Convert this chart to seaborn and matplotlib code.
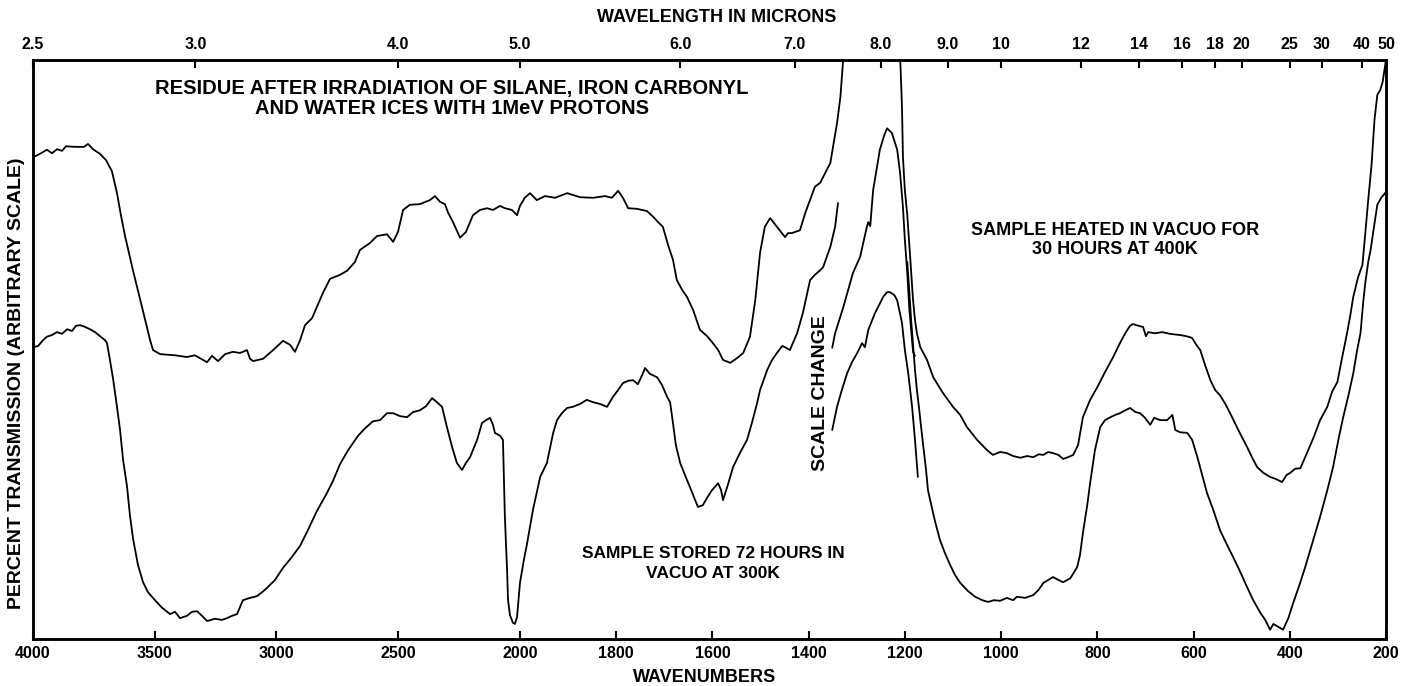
import numpy as np
import pandas as pd
import matplotlib
matplotlib.use("Agg")
import matplotlib.pyplot as plt
import seaborn as sns

# ---------------------------------------------------------------------------- #
#  Spectrum data: (wavenumber [cm-1], transmission [arbitrary, 0-100]) pairs    #
# ---------------------------------------------------------------------------- #

# Upper trace, 4000 cm-1 up to the scale change (runs off the top)
upper_left = [
    (4000, 83.2), (3971, 83.8), (3943, 84.5), (3922, 83.9), (3901, 84.6), (3881, 84.3),
    (3864, 85.1), (3828, 85.0), (3791, 85.0), (3774, 85.5), (3754, 84.6), (3725, 83.8),
    (3700, 82.7), (3676, 80.8), (3655, 77.0), (3639, 73.2), (3622, 69.6), (3589, 63.6),
    (3548, 56.6), (3519, 51.6), (3507, 49.9), (3478, 49.2), (3417, 49.0), (3368, 48.7),
    (3335, 49.0), (3285, 47.8), (3265, 48.9), (3240, 48.0), (3211, 49.2), (3179, 49.6),
    (3150, 49.4), (3121, 49.9), (3109, 48.4), (3096, 48.0), (3055, 48.4), (3014, 49.9),
    (2973, 51.5), (2944, 50.8), (2924, 49.6), (2903, 51.6), (2883, 54.2), (2854, 55.4),
    (2809, 59.8), (2780, 62.2), (2739, 62.9), (2710, 63.6), (2678, 65.1), (2657, 67.2),
    (2616, 68.4), (2587, 69.6), (2546, 69.9), (2521, 68.6), (2501, 70.3), (2480, 74.1),
    (2452, 75.0), (2411, 75.1), (2370, 75.8), (2349, 76.5), (2328, 75.5), (2308, 75.1),
    (2296, 73.7), (2275, 72.0), (2246, 69.3), (2222, 70.3), (2193, 73.2), (2164, 74.1),
    (2135, 74.4), (2111, 74.1), (2082, 74.8), (2062, 74.4), (2033, 74.1), (2012, 73.2),
    (2000, 74.8), (1990, 76.2), (1979, 77.0), (1965, 75.8), (1948, 76.5), (1927, 76.2),
    (1902, 77.0), (1875, 76.3), (1848, 76.2), (1823, 76.5), (1809, 76.2), (1796, 77.4),
    (1786, 76.2), (1775, 74.4), (1757, 74.3), (1736, 73.9), (1723, 72.9), (1713, 72.0),
    (1703, 71.2), (1692, 68.0), (1682, 65.5), (1674, 62.0), (1663, 60.3), (1653, 59.1),
    (1640, 56.8), (1626, 53.4), (1611, 52.3), (1599, 51.1), (1588, 49.9), (1578, 48.2),
    (1563, 47.7), (1549, 48.5), (1536, 49.4), (1522, 52.2), (1511, 58.5), (1501, 66.7),
    (1491, 71.2), (1480, 72.7), (1466, 71.2), (1449, 69.4), (1443, 70.1), (1435, 70.1),
    (1418, 70.6), (1407, 73.6), (1387, 78.1), (1376, 78.8), (1355, 82.2), (1341, 89.1),
    (1334, 93.6), (1327, 101.5),
]

# Upper trace after scale change: band near 1240 cm-1
upper_band = [
    (1351, 50.3), (1345, 52.8), (1328, 57.3), (1308, 63.2), (1293, 66.0), (1279, 71.2),
    (1276, 72.0), (1272, 71.3), (1266, 77.5), (1252, 84.5), (1243, 87.0), (1237, 88.2),
    (1227, 87.4), (1216, 84.5), (1210, 80.5), (1204, 74.6), (1200, 68.9), (1195, 63.2),
    (1191, 57.3), (1187, 53.4), (1183, 49.6), (1179, 48.9),
]

# Upper trace, 1210 cm-1 down to 200 cm-1
upper_right = [
    (1210, 100.9), (1206, 91.9), (1204, 83.2), (1200, 77.5), (1195, 73.2), (1189, 66.0),
    (1183, 58.5), (1179, 55.1), (1175, 52.8), (1168, 50.4), (1154, 48.2), (1141, 45.2),
    (1121, 42.5), (1100, 40.1), (1085, 38.7), (1071, 36.6), (1050, 34.4), (1029, 32.6),
    (1017, 31.8), (1002, 32.3), (988, 32.1), (975, 31.6), (960, 31.3), (946, 31.6),
    (933, 31.4), (922, 31.9), (912, 31.8), (902, 32.3), (892, 32.1), (881, 31.8),
    (871, 31.1), (861, 31.4), (850, 31.8), (840, 33.5), (830, 38.3), (815, 41.3),
    (800, 43.5), (784, 46.1), (767, 48.7), (753, 51.1), (742, 52.8), (732, 54.1),
    (726, 54.4), (715, 54.1), (705, 53.9), (699, 52.3), (694, 53.0), (680, 52.8),
    (665, 53.0), (649, 52.7), (628, 52.5), (615, 52.3), (603, 52.0), (595, 50.9),
    (586, 49.9), (576, 47.3), (565, 44.7), (555, 43.0), (545, 42.1), (534, 40.6),
    (524, 39.0), (507, 36.1), (489, 33.2), (478, 31.3), (468, 29.7), (455, 28.7),
    (441, 28.0), (428, 27.6), (416, 27.1), (407, 28.3), (399, 28.7), (389, 29.4),
    (378, 29.5), (366, 31.8), (351, 34.7), (337, 37.8), (322, 40.1), (312, 42.7),
    (301, 44.4), (291, 48.7), (281, 52.8), (274, 56.0), (268, 59.1), (258, 62.5),
    (249, 64.6), (243, 70.1), (237, 75.8), (230, 81.9), (224, 89.6), (218, 94.0),
    (212, 94.8), (207, 96.2), (200, 100.0),
]

# Lower trace, 4000 cm-1 up to the scale change
lower_left = [
    (4000, 50.4), (3979, 50.6), (3959, 51.6), (3943, 52.2), (3922, 52.5), (3901, 53.0),
    (3881, 52.7), (3860, 53.5), (3840, 53.2), (3823, 54.1), (3807, 54.2), (3786, 53.9),
    (3766, 53.5), (3745, 53.0), (3725, 52.3), (3704, 51.6), (3696, 51.1), (3684, 48.2),
    (3671, 44.9), (3659, 41.3), (3643, 36.3), (3630, 30.9), (3614, 26.4), (3602, 21.4),
    (3589, 17.3), (3569, 12.8), (3548, 9.8), (3528, 8.1), (3499, 6.7), (3470, 5.4),
    (3437, 4.3), (3417, 4.7), (3396, 3.6), (3368, 4.0), (3347, 4.7), (3326, 4.8),
    (3306, 4.0), (3285, 3.1), (3253, 3.5), (3224, 3.3), (3203, 3.6), (3183, 4.0),
    (3162, 4.3), (3150, 5.5), (3138, 6.7), (3109, 7.1), (3080, 7.4), (3047, 8.5),
    (3006, 10.2), (2973, 12.3), (2936, 14.2), (2903, 16.1), (2871, 18.8), (2834, 22.1),
    (2793, 25.2), (2768, 27.3), (2739, 30.2), (2706, 32.6), (2665, 35.1), (2636, 36.4),
    (2604, 37.6), (2575, 37.8), (2546, 39.0), (2521, 39.0), (2493, 38.5), (2464, 38.3),
    (2439, 39.2), (2411, 39.5), (2386, 40.2), (2361, 41.6), (2341, 40.9), (2320, 40.1),
    (2300, 36.6), (2279, 33.2), (2259, 30.4), (2238, 29.2), (2222, 30.4), (2205, 31.4),
    (2176, 34.4), (2156, 37.3), (2139, 37.8), (2123, 38.2), (2111, 37.0), (2103, 35.6),
    (2082, 35.1), (2070, 34.4), (2066, 27.5), (2062, 21.1), (2053, 11.9), (2049, 6.7),
    (2041, 4.1), (2029, 2.8), (2021, 2.6), (2012, 3.8), (2000, 9.7), (1992, 13.6),
    (1985, 16.6), (1973, 22.3), (1958, 28.0), (1944, 30.4), (1931, 35.6), (1923, 37.8),
    (1913, 39.0), (1902, 39.9), (1890, 40.1), (1875, 40.6), (1861, 41.3), (1848, 40.9),
    (1834, 40.6), (1819, 40.1), (1807, 41.8), (1796, 43.0), (1786, 44.2), (1775, 44.6),
    (1765, 44.7), (1755, 44.0), (1746, 45.6), (1740, 46.8), (1730, 45.8), (1715, 45.2),
    (1705, 43.9), (1694, 41.8), (1688, 40.9), (1682, 37.3), (1676, 33.5), (1667, 30.4),
    (1657, 28.3), (1647, 26.3), (1636, 24.0), (1630, 22.8), (1620, 23.1), (1611, 24.4),
    (1601, 25.7), (1588, 26.9), (1582, 25.7), (1578, 24.0), (1568, 26.6), (1557, 29.7),
    (1543, 32.1), (1528, 34.4), (1518, 37.3), (1507, 40.8), (1501, 43.0), (1486, 46.5),
    (1476, 48.2), (1466, 49.4), (1455, 50.6), (1449, 50.4), (1439, 49.9), (1424, 52.8),
    (1412, 56.3), (1397, 62.0), (1387, 62.9), (1376, 63.7), (1370, 64.2), (1355, 67.7),
    (1345, 71.2), (1339, 75.3),
]

# Lower trace after scale change: band near 1235 cm-1
lower_band = [
    (1351, 36.1), (1341, 40.1), (1331, 43.0), (1320, 45.9), (1310, 47.8), (1299, 49.4),
    (1289, 51.1), (1283, 50.4), (1276, 53.4), (1262, 56.3), (1245, 59.1), (1237, 59.9),
    (1231, 59.9), (1222, 59.4), (1216, 58.5), (1206, 54.6), (1200, 49.9), (1193, 45.9),
    (1185, 40.1), (1179, 34.4), (1173, 28.0),
]

# Lower trace, 1195 cm-1 down to 200 cm-1
lower_right = [
    (1195, 65.1), (1191, 60.3), (1187, 55.1), (1183, 50.8), (1179, 46.5), (1175, 43.0),
    (1170, 39.5), (1166, 36.4), (1162, 33.5), (1156, 29.2), (1152, 25.7), (1145, 23.1),
    (1137, 20.2), (1127, 17.1), (1117, 14.9), (1106, 12.8), (1096, 11.1), (1085, 9.7),
    (1069, 8.3), (1054, 7.3), (1039, 6.7), (1027, 6.4), (1015, 6.7), (1002, 6.6),
    (988, 7.1), (975, 6.7), (967, 7.3), (950, 7.1), (933, 7.6), (922, 8.5),
    (912, 9.7), (902, 10.2), (892, 10.7), (881, 10.2), (871, 9.8), (856, 10.5),
    (842, 12.4), (836, 14.5), (830, 18.3), (821, 23.1), (815, 26.9), (805, 32.6),
    (794, 36.6), (784, 37.8), (773, 38.3), (763, 38.7), (753, 39.0), (742, 39.5),
    (732, 39.9), (721, 39.2), (711, 39.0), (701, 38.2), (690, 37.0), (682, 38.2),
    (669, 37.8), (655, 37.8), (644, 38.7), (638, 36.1), (628, 35.7), (613, 35.6),
    (603, 34.4), (592, 31.4), (582, 28.3), (572, 25.2), (559, 22.3), (545, 18.8),
    (530, 16.2), (518, 14.2), (503, 11.6), (489, 9.0), (476, 6.7), (461, 4.5),
    (451, 3.3), (441, 1.6), (434, 2.6), (426, 2.2), (414, 1.6), (403, 3.6),
    (393, 6.2), (380, 9.3), (368, 12.4), (353, 16.6), (337, 21.1), (322, 25.7),
    (310, 29.7), (299, 34.4), (289, 38.3), (278, 42.1), (268, 45.9), (260, 49.9),
    (253, 52.8), (247, 58.5), (243, 61.5), (237, 65.1), (232, 67.2), (226, 70.6),
    (218, 75.0), (210, 76.2), (200, 77.2),
]

wavenumber_ticks = [4000, 3500, 3000, 2500, 2000, 1800, 1600, 1400, 1200, 1000, 800, 600, 400, 200]
micron_ticks = [2.5, 3.0, 4.0, 5.0, 6.0, 7.0, 8.0, 9.0, 10, 12, 14, 16, 18, 20, 25, 30, 40, 50]
micron_labels = ["2.5", "3.0", "4.0", "5.0", "6.0", "7.0", "8.0", "9.0", "10", "12",
                 "14", "16", "18", "20", "25", "30", "40", "50"]

# Spectrometer chart: 4000-2000 cm-1 compressed, 2000-200 cm-1 expanded
RATIO = 1.976


def fwd(w):
    w = np.asarray(w, dtype=float)
    return np.where(w >= 2000, w, 2000 - RATIO * (2000 - w))


def inv(u):
    u = np.asarray(u, dtype=float)
    return np.where(u >= 2000, u, 2000 - (2000 - u) / RATIO)


segments = {
    "upper_left": upper_left,
    "upper_band": upper_band,
    "upper_right": upper_right,
    "lower_left": lower_left,
    "lower_band": lower_band,
    "lower_right": lower_right,
}
df = pd.concat(
    [pd.DataFrame(pts, columns=["wn", "T"]).assign(segment=name) for name, pts in segments.items()],
    ignore_index=True,
)

sns.set_theme(style="ticks")
plt.rcParams["font.family"] = ["Liberation Sans", "DejaVu Sans"]
plt.rcParams["text.color"] = "black"

fig = plt.figure(figsize=(14.03, 6.86), dpi=100)
ax = fig.add_axes([33 / 1403, 47 / 686, 1353 / 1403, 579 / 686])

sns.lineplot(data=df, x="wn", y="T", units="segment", estimator=None, sort=False,
             color="black", linewidth=1.3, legend=False, ax=ax)

ax.set_xscale("function", functions=(fwd, inv))
ax.set_xlim(4000, 200)
ax.set_ylim(0, 100)
ax.set_yticks([])
ax.set_xticks(wavenumber_ticks)
ax.set_xticklabels([str(t) for t in wavenumber_ticks])
ax.set_xlabel("")
ax.set_ylabel("")
ax.tick_params(axis="x", direction="in", length=6, width=1.5, pad=5, labelsize=11.5,
               colors="black")
for spine in ax.spines.values():
    spine.set_linewidth(1.8)
    spine.set_color("black")

# Top axis in microns
top = ax.twiny()
top.set_xscale("function", functions=(fwd, inv))
top.set_xlim(4000, 200)
top.set_xticks([1e4 / m for m in micron_ticks])
top.set_xticklabels(micron_labels)
top.tick_params(axis="x", direction="in", length=6, width=1.5, pad=6, labelsize=11.5,
                colors="black")
for spine in top.spines.values():
    spine.set_linewidth(1.8)
    spine.set_color("black")

for lbl in ax.get_xticklabels() + top.get_xticklabels():
    lbl.set_fontweight("bold")

# Annotations
text_kw = dict(transform=ax.transAxes, ha="center", va="center", fontweight="bold",
               color="black")
ax.text(0.3097, 0.9335, "RESIDUE AFTER IRRADIATION OF SILANE, IRON CARBONYL\n"
        "AND WATER ICES WITH 1MeV PROTONS", fontsize=14.5, linespacing=1.1, **text_kw)
ax.text(0.7997, 0.689, "SAMPLE HEATED IN VACUO FOR\n30 HOURS AT 400K", fontsize=13,
        linespacing=1.15, **text_kw)
ax.text(0.5026, 0.131, "SAMPLE STORED 72 HOURS IN\nVACUO AT 300K", fontsize=12.5,
        linespacing=1.4, **text_kw)
ax.text(0.5817, 0.425, "SCALE CHANGE", rotation=90, fontsize=14, **text_kw)

fig.text(717 / 1403, 1 - 18 / 686, "WAVELENGTH IN MICRONS", ha="center", va="center",
         fontsize=13, fontweight="bold", color="black")
fig.text(705 / 1403, 1 - 677 / 686, "WAVENUMBERS", ha="center", va="center",
         fontsize=13, fontweight="bold", color="black")
fig.text(17 / 1403, 1 - 383 / 686, "PERCENT TRANSMISSION (ARBITRARY SCALE)", rotation=90,
         ha="center", va="center", fontsize=14, fontweight="bold", color="black")

fig.savefig("out.png", dpi=100)
